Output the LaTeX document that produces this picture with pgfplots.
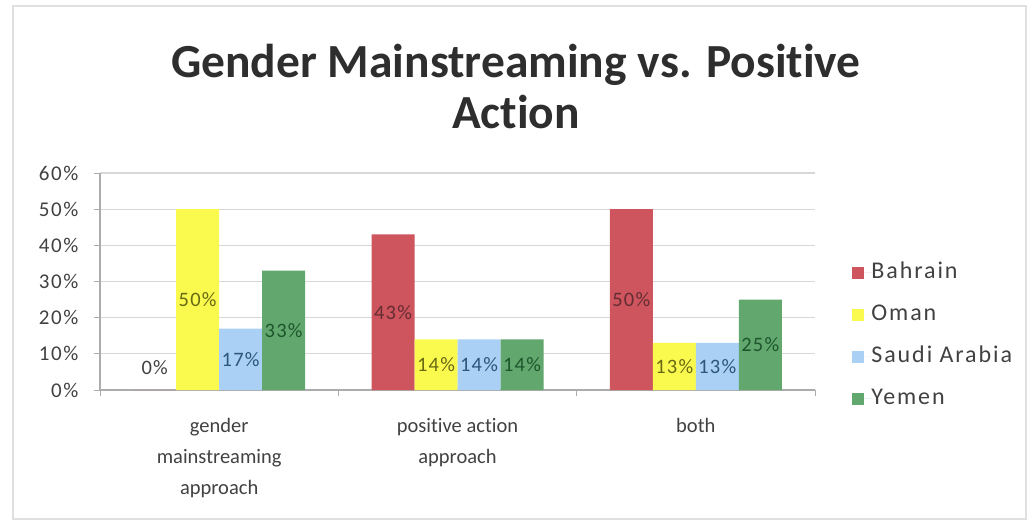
\documentclass[border=0pt]{standalone}
\usepackage{fontspec}
\setmainfont{Carlito}[Ligatures={NoCommon,NoContextual}]
\usepackage{pgfplots}
\pgfplotsset{compat=1.18}
\newcommand{\ti}{t\kern0pt i}
\definecolor{cBah}{RGB}{206,84,94}
\definecolor{cOma}{RGB}{250,250,78}
\definecolor{cSau}{RGB}{170,208,245}
\definecolor{cYem}{RGB}{98,168,110}
\definecolor{lBah}{RGB}{100,45,50}
\definecolor{lOma}{RGB}{105,105,20}
\definecolor{lSau}{RGB}{45,85,125}
\definecolor{lYem}{RGB}{30,85,45}
\definecolor{txt}{RGB}{65,65,65}
\definecolor{grd}{RGB}{215,215,215}
\begin{document}
\begin{tikzpicture}[x=1pt,y=1pt]
\path[use as bounding box] (0,0) rectangle (1029,523);
\draw[black!12, line width=1.5pt] (13,4) rectangle (1026,517);
\node[font=\fontsize{47.5}{51}\selectfont\bfseries, text=black!82, align=center] at (516,436) {Gender Mainstreaming vs. Posi\ti ve\\Ac\ti on};
\begin{axis}[
  at={(100pt,133pt)}, anchor=south west,
  scale only axis, width=715pt, height=217pt,
  ymin=0, ymax=60, ytick={0,10,...,60},
  xmin=-0.5, xmax=2.5, xtick={0,1,2},
  minor xtick={-0.5,0.5,1.5,2.5},
  xticklabels={gender\\mainstreaming\\approach, posi\ti ve ac\ti on\\approach, both},
  xticklabel style={align=center, font=\fontsize{20.5}{31}\selectfont, text=txt, yshift=-19pt},
  yticklabel={\pgfmathprintnumber{\tick}\%},
  yticklabel style={font=\fontsize{21}{25}\selectfont\addfontfeature{LetterSpace=8}, text=txt, xshift=-12pt},
  /pgf/number format/assume math mode=true,
  axis lines*=left,
  axis line style={grd!80!black, line width=1.2pt},
  ymajorgrids, major grid style={grd, line width=1.2pt},
  major x tick style={draw=none},
  minor x tick style={grd!80!black, line width=1pt},
  major y tick style={grd!80!black, line width=1pt},
  tick align=outside, major tick length=6pt, minor tick length=6pt,
  ybar=0pt, bar width=43pt,
  every axis plot/.append style={draw=none},
  visualization depends on={rawy \as \rawy},
  nodes near coords={\ifdim\rawy pt=0pt\color{txt}\fi\pgfmathprintnumber[fixed,precision=0]{\pgfplotspointmeta}\%},
  every node near coord/.append style={anchor=center, font=\fontsize{20.5}{24}\selectfont\addfontfeature{LetterSpace=6},
     yshift={ifthenelse(\rawy==0,22,-1.80833*\rawy)*1pt}},
  legend style={at={(axis description cs:1.052,0.25)}, anchor=west, draw=none, fill=none,
     font=\fontsize{24}{28}\selectfont\addfontfeature{LetterSpace=8}, text=txt,
     row sep=21pt, inner sep=0pt,
     nodes={text height=16pt, text depth=5pt, inner sep=0pt}},
  legend cell align=left,
  legend image code/.code={\fill[#1] (0pt,-6pt) rectangle (12pt,6pt); \path (0pt,0pt) -- (19pt,0pt);},
]
\addplot[fill=cBah, every node near coord/.append style={text=lBah}] coordinates {(0,0) (1,43) (2,50)};
\addplot[fill=cOma, every node near coord/.append style={text=lOma}] coordinates {(0,50) (1,14) (2,13)};
\addplot[fill=cSau, every node near coord/.append style={text=lSau}] coordinates {(0,17) (1,14) (2,13)};
\addplot[fill=cYem, every node near coord/.append style={text=lYem}] coordinates {(0,33) (1,14) (2,25)};
\legend{Bahrain, Oman, Saudi Arabia, Yemen}
\end{axis}
\end{tikzpicture}
\end{document}
